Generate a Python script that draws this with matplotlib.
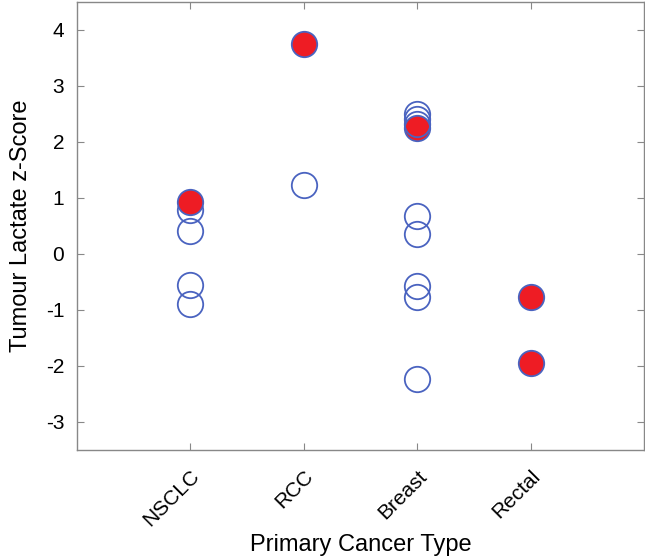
import matplotlib
matplotlib.use("Agg")
import matplotlib.pyplot as plt

plt.rcParams['font.family'] = ['Liberation Sans', 'DejaVu Sans']

categories = ["NSCLC", "RCC", "Breast", "Rectal"]

# open (non-filled) points: category index (1-based), z-score
open_cat = [1, 1, 1, 1, 2, 3, 3, 3, 3, 3, 3, 3]
open_val = [0.79, 0.40, -0.56, -0.90, 1.22, 2.50, 2.40, 0.68, 0.36, -0.57, -0.77, -2.24]

# filled red points
red_cat = [1, 2, 3, 4, 4]
red_val = [0.93, 3.74, 2.24, -0.77, -1.95]

# open point drawn on top of red
top_cat = [3]
top_val = [2.31]

yticks = [-3, -2, -1, 0, 1, 2, 3, 4]

blue = "#4a63c0"
red = "#ee1c24"
spine = "#888888"

fig = plt.figure(figsize=(6.45, 5.59), dpi=100)
ax = fig.add_axes([0.119, 0.195, 0.8795, 0.802])

ms = 18.3
mew = 1.3
ax.plot(open_cat, open_val, linestyle="none", marker="o", markersize=ms,
        markerfacecolor="none", markeredgecolor=blue, markeredgewidth=mew, zorder=2)
ax.plot(red_cat, red_val, linestyle="none", marker="o", markersize=ms,
        markerfacecolor=red, markeredgecolor=blue, markeredgewidth=mew, zorder=3)
ax.plot(top_cat, top_val, linestyle="none", marker="o", markersize=ms,
        markerfacecolor="none", markeredgecolor=blue, markeredgewidth=mew, zorder=4)

ax.set_xlim(0, 5)
ax.set_ylim(-3.5, 4.5)
ax.set_xticks(range(1, len(categories) + 1))
ax.set_xticklabels(categories, rotation=45, ha="right", rotation_mode="anchor", fontsize=15)
ax.set_yticks(yticks)
ax.set_yticklabels([str(t) for t in yticks], fontsize=15)

ax.tick_params(direction="in", length=5, width=0.8, color=spine, top=True, right=True, pad=9)
ax.tick_params(axis="x", pad=12)
for s in ax.spines.values():
    s.set_color(spine)
    s.set_linewidth(1.0)

ax.set_xlabel("Primary Cancer Type", fontsize=17, labelpad=3)
ax.set_ylabel("Tumour Lactate z-Score", fontsize=17, labelpad=10)

fig.savefig("out.png", dpi=100)
